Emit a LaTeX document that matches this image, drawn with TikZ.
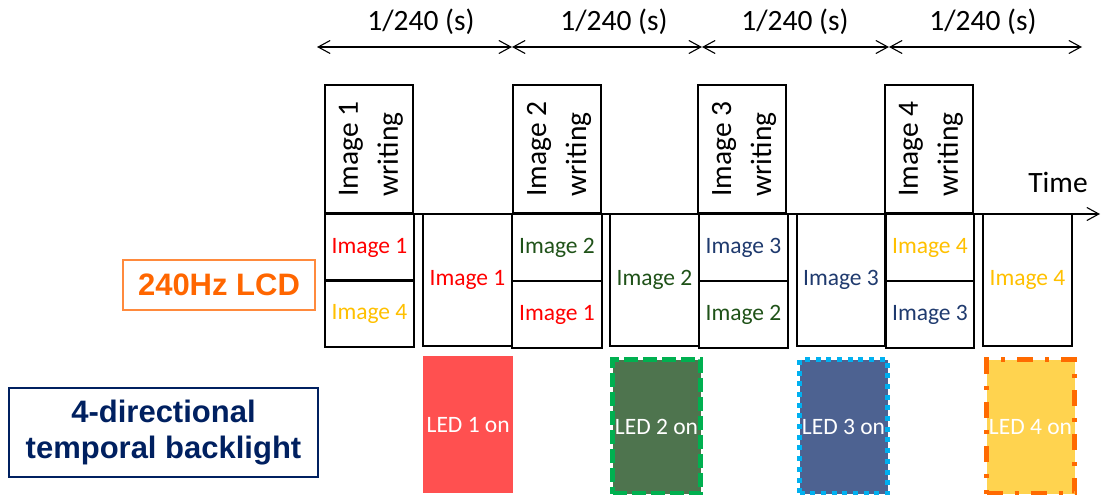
\documentclass[tikz,border=0pt]{standalone}
\usepackage{fontspec}
\setmainfont{Carlito}
\newfontfamily\headfont{Liberation Sans}
\usetikzlibrary{arrows.meta}

\definecolor{imgA}{HTML}{FF0000}
\definecolor{imgB}{HTML}{1F5218}
\definecolor{imgC}{HTML}{1F3A6E}
\definecolor{imgD}{HTML}{FFC000}
\definecolor{ledA}{HTML}{FF5050}
\definecolor{ledB}{HTML}{4E744E}
\definecolor{ledC}{HTML}{4D6291}
\definecolor{ledD}{HTML}{FFD34F}
\definecolor{edgeB}{HTML}{00B050}
\definecolor{edgeC}{HTML}{00B0F0}
\definecolor{edgeD}{HTML}{FF6A00}
\definecolor{lcdorange}{HTML}{FF6600}
\definecolor{lcdedge}{HTML}{FF8A3D}
\definecolor{navy}{HTML}{002060}

\tikzset{
  frame/.style={draw, line width=1.4pt, anchor=north west, inner sep=0pt, outer sep=0pt},
  writebox/.style={frame, minimum width=88pt, minimum height=128pt},
  halfcell/.style={frame, minimum width=89pt, minimum height=67pt},
  fullcell/.style={frame, minimum width=89pt, minimum height=132pt},
  cellfont/.style={font=\fontsize{23.5}{28}\selectfont},
  bigfont/.style={font=\fontsize{29.5}{40}\selectfont},
  vtext/.style={bigfont, rotate=90, align=left, inner sep=0pt},
  ledbox/.style={anchor=north west, minimum width=90pt, minimum height=137pt,
    inner sep=0pt, text=white, text depth=0pt, font=\fontsize{23.5}{28}\selectfont},
  lededge/.style={line width=5pt, minimum width=88pt, minimum height=134pt},
  span/.style={line width=1.1pt, {Straight Barb[length=12pt,width=13pt]}-{Straight Barb[length=12pt,width=13pt]}},
  axis/.style={line width=1.1pt, -{Straight Barb[length=12pt,width=13pt]}},
  sidelabel/.style={inner sep=0pt, align=center, font=\headfont\bfseries\fontsize{31}{36}\selectfont}
}

\begin{document}
\begin{tikzpicture}[x=1pt, y=-1pt]
\path[use as bounding box] (0,0) rectangle (1104,495);

% period marks along the top
\coordinate (t0) at (317,47);
\coordinate (t1) at (512,47);
\coordinate (t2) at (702,47);
\coordinate (t3) at (889,47);
\coordinate (t4) at (1082,47);
\draw[span] (t0) -- (t1);
\draw[span] (t1) -- (t2);
\draw[span] (t2) -- (t3);
\draw[span] (t3) -- (t4);
\node[bigfont] (p1) at (421,22) {1/240 (s)};
\node[bigfont] (p2) at (614,22) {1/240 (s)};
\node[bigfont] (p3) at (795,22) {1/240 (s)};
\node[bigfont] (p4) at (983,22) {1/240 (s)};

% writing phases
\node[writebox] (w1) at (325,85) {};
\node[writebox] (w2) at (513,85) {};
\node[writebox] (w3) at (698,85) {};
\node[writebox] (w4) at (885,85) {};
\node[vtext] at ([xshift=2pt]w1.center) {Image 1\\writing};
\node[vtext] at ([xshift=2pt]w2.center) {Image 2\\writing};
\node[vtext] at ([xshift=2pt]w3.center) {Image 3\\writing};
\node[vtext] at ([xshift=2pt]w4.center) {Image 4\\writing};

% time axis
\coordinate (a0) at (325,214);
\coordinate (a1) at (1100,214);
\draw[axis] (a0) -- (a1);
\node[bigfont] (time) at (1058,182) {Time};

% displayed frames
\node[halfcell, cellfont, text=imgA] (c1a) at (325,214) {Image 1};
\node[halfcell, cellfont, text=imgD] (c1b) at (325,280) {Image 4};
\node[fullcell, cellfont, text=imgA] (s1) at (423,214) {Image 1};

\node[halfcell, cellfont, text=imgB, minimum width=90pt] (c2a) at (512,214) {Image 2};
\node[halfcell, cellfont, text=imgA, minimum width=90pt] (c2b) at (512,281) {Image 1};
\node[fullcell, cellfont, text=imgB] (s2) at (610,214) {Image 2};

\node[halfcell, cellfont, text=imgC] (c3a) at (699,214) {Image 3};
\node[halfcell, cellfont, text=imgB] (c3b) at (699,281) {Image 2};
\node[fullcell, cellfont, text=imgC, minimum width=88pt] (s3) at (797,214) {Image 3};

\node[halfcell, cellfont, text=imgD, minimum width=88pt] (c4a) at (886,214) {Image 4};
\node[halfcell, cellfont, text=imgC, minimum width=88pt] (c4b) at (886,281) {Image 3};
\node[fullcell, cellfont, text=imgD] (s4) at (983,214) {Image 4};

% backlight pulses
\node[ledbox, fill=ledA] (led1) at (423,356) {LED 1 on};
\node[ledbox, lededge, fill=ledB, draw=edgeB, dash pattern=on 14pt off 5pt] (led2) at (610,357) {LED 2 on};
\node[ledbox, lededge, fill=ledC, draw=edgeC, dash pattern=on 5pt off 5.7pt] (led3) at (797,357) {LED 3 on};
\node[ledbox, lededge, fill=ledD, draw=edgeD, dash pattern=on 16pt off 12pt on 4pt off 12pt] (led4) at (984,357) {LED 4 on};

% row labels
\node[sidelabel, draw=lcdedge, line width=1.2pt, text=lcdorange, minimum width=192pt, minimum height=50pt] (lcd) at (219,285) {240Hz LCD};
\node[sidelabel, draw=navy, line width=1.2pt, text=navy, minimum width=309pt, minimum height=89pt] (bl) at (163.5,432.5) {4-directional\\temporal backlight};
\end{tikzpicture}
\end{document}
